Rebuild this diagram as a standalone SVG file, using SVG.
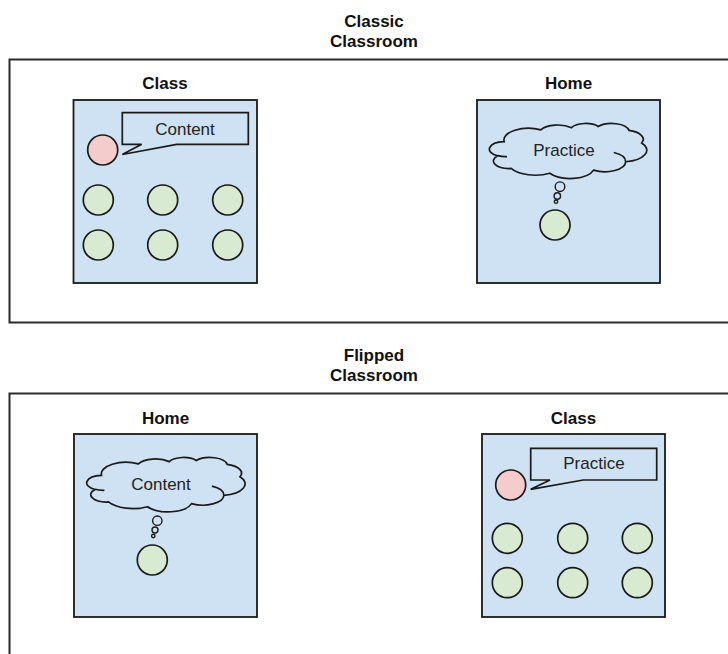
<svg xmlns="http://www.w3.org/2000/svg" xmlns:xlink="http://www.w3.org/1999/xlink" width="728" height="654" viewBox="0 0 728 654">
  <style>
    .frame { fill: #ffffff; stroke: #2b2b2b; stroke-width: 2; }
    .panel { fill: #cfe2f3; stroke: #1a1a1a; stroke-width: 1.8; }
    .bubble { fill: #cfe2f3; stroke: #1a1a1a; stroke-width: 1.7; stroke-linejoin: miter; }
    .teacher { fill: #f4cccc; stroke: #1a1a1a; stroke-width: 1.7; }
    .student { fill: #d9ead3; stroke: #1a1a1a; stroke-width: 1.7; }
    .cloud { fill: #cfe2f3; stroke: #1a1a1a; stroke-width: 1.7; vector-effect: non-scaling-stroke; }
    .cloud-line { fill: none; stroke: #1a1a1a; stroke-width: 1.7; vector-effect: non-scaling-stroke; }
    .dot { fill: #cfe2f3; stroke: #1a1a1a; stroke-width: 1.4; }
    .title { font-family: "Liberation Sans", Arial, sans-serif; font-size: 17px; font-weight: bold; fill: #111; text-anchor: middle; }
    .label { font-family: "Liberation Sans", Arial, sans-serif; font-size: 17px; fill: #222; text-anchor: middle; }
  </style>
  <defs>
    <!-- cloud outline in a 100 x 100 box -->
    <g id="cloudShape">
      <path class="cloud" d="M9.028,33.264 A15.632,21.273 0 0 1 32.421,12.043 A12.345,16.822 0 0 1 51.984,7.944 A10.104,13.762 0 0 1 69.062,5.741 A11.243,15.266 0 0 1 88.704,12.905 A12.345,16.836 0 0 1 96.807,35.784 A15.683,21.343 0 0 1 86.588,69.910 A13.391,18.211 0 0 1 66.107,85.213 A15.630,21.331 0 0 1 38.156,90.890 A17.870,24.405 0 0 1 13.440,82.103 A10.093,13.699 0 0 1 4.895,59.137 A10.058,13.762 0 0 1 9.028,33.264 Z"/>
      <path class="cloud-line" d="M10.86,60.59 A10.058,13.762 0 0 1 5.0,58.75 M79.0,53.13 A13.391,18.211 0 0 1 86.53,69.65"/>
    </g>
  </defs>

  <!-- Classic classroom -->
  <g id="classic">
    <text class="title" x="374" y="27">Classic</text>
    <text class="title" x="374" y="47">Classroom</text>
    <rect class="frame" x="9.5" y="59.5" width="740" height="263"/>
  </g>

  <g id="classic-class">
    <text class="title" x="165" y="89">Class</text>
    <rect class="panel" x="73.5" y="100" width="183.5" height="183"/>
    <path class="bubble" d="M122.3,112.7 H248.3 V144.3 H176.7 L122.3,154.5 L141.7,144.3 H122.3 Z"/>
    <text class="label" x="185" y="135">Content</text>
    <circle class="teacher" cx="102.7" cy="150" r="15"/>
    <circle class="student" cx="98.3" cy="200" r="15"/>
    <circle class="student" cx="162.7" cy="200" r="15"/>
    <circle class="student" cx="227.7" cy="200" r="15"/>
    <circle class="student" cx="98.3" cy="245" r="15"/>
    <circle class="student" cx="162.7" cy="245" r="15"/>
    <circle class="student" cx="227.7" cy="245" r="15"/>
  </g>

  <g id="classic-home">
    <text class="title" x="568.5" y="89">Home</text>
    <rect class="panel" x="477" y="100" width="183" height="183"/>
    <use xlink:href="#cloudShape" transform="translate(490,123.3) scale(1.567,0.55)"/>
    <text class="label" x="564" y="156">Practice</text>
    <circle class="dot" cx="560" cy="186.7" r="4.8"/>
    <circle class="dot" cx="557.3" cy="196" r="3.2"/>
    <circle class="dot" cx="556" cy="201.7" r="1.7"/>
    <circle class="student" cx="555" cy="225" r="15"/>
  </g>

  <!-- Flipped classroom -->
  <g id="flipped">
    <text class="title" x="374" y="361">Flipped</text>
    <text class="title" x="374" y="381">Classroom</text>
    <rect class="frame" x="9.5" y="393.5" width="740" height="270"/>
  </g>

  <g id="flipped-home">
    <text class="title" x="165.5" y="424">Home</text>
    <rect class="panel" x="74" y="434" width="183" height="183"/>
    <use xlink:href="#cloudShape" transform="translate(87.3,457.3) scale(1.577,0.544)"/>
    <text class="label" x="161" y="490">Content</text>
    <circle class="dot" cx="157.3" cy="520.7" r="4.7"/>
    <circle class="dot" cx="155" cy="530" r="3"/>
    <circle class="dot" cx="153.3" cy="536" r="1.7"/>
    <circle class="student" cx="152.3" cy="560" r="15"/>
  </g>

  <g id="flipped-class">
    <text class="title" x="573.5" y="424">Class</text>
    <rect class="panel" x="482" y="434" width="183" height="183"/>
    <path class="bubble" d="M530.7,448.3 H656.7 V480 H583.3 L530.7,489.3 L550,480 H530.7 Z"/>
    <text class="label" x="594" y="469">Practice</text>
    <circle class="teacher" cx="510.7" cy="485" r="15"/>
    <circle class="student" cx="507.3" cy="538.3" r="15"/>
    <circle class="student" cx="572.7" cy="538.3" r="15"/>
    <circle class="student" cx="637.3" cy="538.3" r="15"/>
    <circle class="student" cx="507.3" cy="582.7" r="15"/>
    <circle class="student" cx="572.7" cy="582.7" r="15"/>
    <circle class="student" cx="637.3" cy="582.7" r="15"/>
  </g>
</svg>
